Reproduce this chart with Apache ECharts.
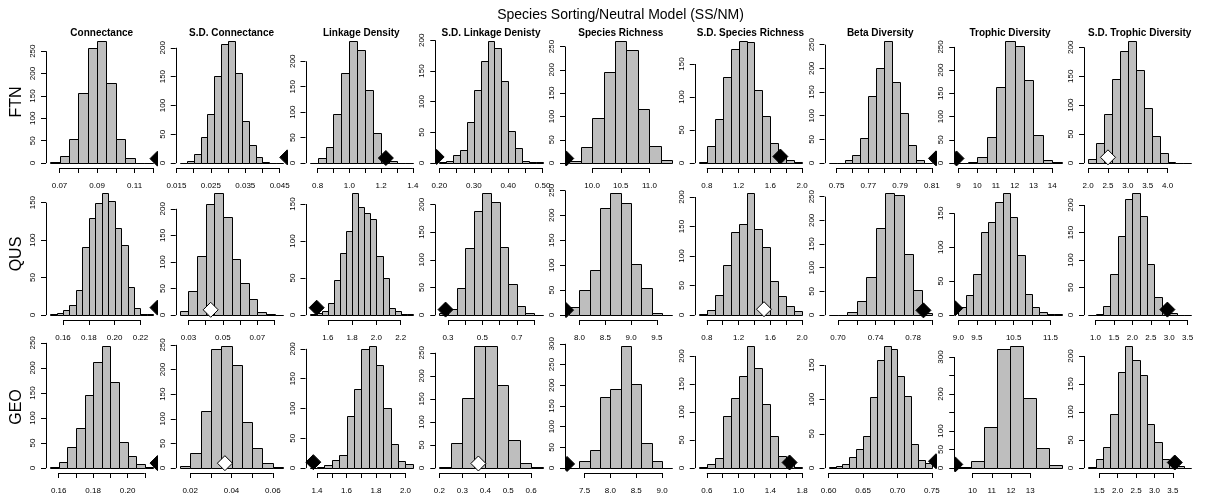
<!DOCTYPE html>
<html>
<head>
<meta charset="utf-8">
<script src="https://cdn.jsdelivr.net/npm/echarts@6/dist/echarts.min.js"></script>
<style>
  html, body { margin: 0; padding: 0; background: #fff; }
  #chart { width: 1206px; height: 502px; }
</style>
</head>
<body>
<div id="chart"></div>
<script>
// histogram panels: one row per region, one column per metric
var metrics = ['Connectance', 'S.D. Connectance', 'Linkage Density', 'S.D. Linkage Denisty',
  'Species Richness', 'S.D. Species Richness', 'Beta Diversity', 'Trophic Diversity', 'S.D. Trophic Diversity'];
var regions = ['FTN', 'QUS', 'GEO'];

// FTN
var ftnStart = [0.065, 0.016, 0.75, 0.20, 9.6, 0.7, 0.745, 9.0, 2.0];
var ftnWidth = [0.005, 0.002, 0.05, 0.02, 0.2, 0.1, 0.005, 0.5, 0.2];
var ftnCounts = [
  [3, 15, 54, 157, 256, 273, 178, 54, 12, 1, 1],
  [1, 3, 16, 46, 86, 151, 207, 212, 156, 73, 31, 10, 2, 1, 1],
  [1, 11, 31, 97, 177, 240, 222, 143, 59, 15, 4, 1, 1],
  [1, 3, 13, 21, 67, 119, 167, 199, 188, 134, 53, 25, 4, 2, 1],
  [5, 35, 97, 195, 262, 242, 117, 36, 6],
  [2, 26, 67, 130, 172, 185, 183, 110, 72, 30, 10, 4, 1],
  [1, 1, 7, 17, 54, 141, 200, 258, 172, 105, 39, 7, 1],
  [1, 2, 14, 57, 163, 263, 253, 178, 60, 7, 2],
  [7, 35, 84, 145, 193, 211, 160, 96, 46, 17, 2, 1, 1]
];
var ftnTicks = [
  [0.07, 0.08, 0.09, 0.10, 0.11, 0.12],
  [0.015, 0.020, 0.025, 0.030, 0.035, 0.040, 0.045],
  [0.8, 0.9, 1.0, 1.1, 1.2, 1.3, 1.4],
  [0.20, 0.25, 0.30, 0.35, 0.40, 0.45, 0.50],
  [10.0, 10.5, 11.0],
  [0.8, 1.0, 1.2, 1.4, 1.6, 1.8, 2.0],
  [0.75, 0.76, 0.77, 0.78, 0.79, 0.80, 0.81],
  [9, 10, 11, 12, 13, 14],
  [2.0, 2.5, 3.0, 3.5, 4.0]
];
var ftnLabels = [
  [0.07, 0.09, 0.11],
  [0.015, 0.025, 0.035, 0.045],
  [0.8, 1.0, 1.2, 1.4],
  [0.20, 0.30, 0.40, 0.50],
  [10.0, 10.5, 11.0],
  [0.8, 1.2, 1.6, 2.0],
  [0.75, 0.77, 0.79, 0.81],
  [9, 10, 11, 12, 13, 14],
  [2.0, 2.5, 3.0, 3.5, 4.0]
];
var ftnDigits = [2, 3, 1, 2, 1, 1, 2, 0, 1];
var ftnYTop = [250, 200, 200, 200, 250, 150, 250, 250, 200];
var ftnObs = [0.1222, 0.0472, 1.23, 0.192, 9.55, 1.726, 0.8126, 8.9, 2.5];
var ftnFill = ['#000', '#000', '#000', '#000', '#000', '#000', '#000', '#000', '#fff'];

// QUS
var qusStart = [0.15, 0.025, 1.45, 0.25, 7.8, 0.7, 0.69, 9.0, 0.8];
var qusWidth = [0.005, 0.005, 0.05, 0.05, 0.2, 0.1, 0.01, 0.2, 0.2];
var qusCounts = [
  [1, 3, 7, 13, 34, 91, 130, 150, 163, 152, 116, 93, 38, 9, 2, 1],
  [7, 46, 111, 209, 230, 184, 106, 61, 31, 6, 2, 1],
  [1, 3, 5, 16, 48, 84, 114, 165, 146, 138, 130, 80, 50, 9, 5, 2, 1],
  [3, 11, 49, 121, 189, 221, 204, 124, 57, 17, 4, 1],
  [16, 50, 90, 215, 245, 224, 103, 54, 4, 1],
  [2, 9, 34, 85, 140, 155, 207, 145, 116, 57, 32, 15, 7],
  [1, 1, 7, 30, 81, 183, 258, 253, 128, 53, 5],
  [12, 29, 61, 123, 137, 166, 180, 144, 89, 31, 12, 4, 1, 1],
  [1, 2, 17, 74, 143, 211, 222, 180, 92, 32, 17, 4, 1, 1]
];
var qusTicks = [
  [0.16, 0.18, 0.20, 0.22],
  [0.03, 0.04, 0.05, 0.06, 0.07, 0.08],
  [1.6, 1.8, 2.0, 2.2],
  [0.3, 0.4, 0.5, 0.6, 0.7, 0.8],
  [8.0, 8.5, 9.0, 9.5],
  [0.8, 1.0, 1.2, 1.4, 1.6, 1.8, 2.0],
  [0.70, 0.72, 0.74, 0.76, 0.78, 0.80],
  [9.0, 9.5, 10.0, 10.5, 11.0, 11.5],
  [1.0, 1.5, 2.0, 2.5, 3.0, 3.5]
];
var qusLabels = [
  [0.16, 0.18, 0.20, 0.22],
  [0.03, 0.05, 0.07],
  [1.6, 1.8, 2.0, 2.2],
  [0.3, 0.5, 0.7],
  [8.0, 8.5, 9.0, 9.5],
  [0.8, 1.2, 1.6, 2.0],
  [0.70, 0.74, 0.78],
  [9.0, 9.5, 10.5, 11.5],
  [1.0, 1.5, 2.0, 2.5, 3.0, 3.5]
];
var qusDigits = [2, 2, 1, 1, 1, 1, 2, 1, 1];
var qusYTop = [150, 200, 150, 200, 250, 200, 250, 150, 200];
var qusObs = [0.2332, 0.0429, 1.508, 0.286, 7.74, 1.52, 0.791, 8.915, 2.95];
var qusFill = ['#000', '#fff', '#000', '#000', '#000', '#fff', '#000', '#000', '#000'];

// GEO
var geoStart = [0.155, 0.015, 1.35, 0.20, 7.2, 0.5, 0.60, 9.262, 1.2];
var geoWidth = [0.005, 0.005, 0.05, 0.05, 0.2, 0.1, 0.01, 0.672, 0.2];
var geoCounts = [
  [3, 13, 43, 80, 146, 211, 244, 172, 52, 24, 9, 2],
  [4, 31, 115, 242, 248, 210, 94, 40, 11, 3],
  [1, 2, 6, 14, 22, 88, 132, 200, 205, 173, 100, 41, 12, 7],
  [3, 54, 153, 265, 265, 180, 62, 12, 3],
  [1, 18, 44, 172, 190, 295, 204, 60, 17, 1],
  [2, 7, 18, 93, 125, 164, 218, 179, 114, 57, 21, 12, 2],
  [2, 3, 6, 16, 28, 47, 103, 158, 178, 173, 134, 105, 35, 12, 7],
  [3, 20, 110, 322, 330, 190, 55, 8],
  [2, 17, 38, 97, 171, 218, 193, 166, 78, 47, 17, 5, 4, 1]
];
var geoTicks = [
  [0.16, 0.17, 0.18, 0.19, 0.20, 0.21],
  [0.02, 0.03, 0.04, 0.05, 0.06],
  [1.4, 1.5, 1.6, 1.7, 1.8, 1.9, 2.0],
  [0.2, 0.3, 0.4, 0.5, 0.6],
  [7.5, 8.0, 8.5, 9.0],
  [0.6, 0.8, 1.0, 1.2, 1.4, 1.6, 1.8],
  [0.60, 0.65, 0.70, 0.75],
  [10, 11, 12, 13],
  [1.5, 2.0, 2.5, 3.0, 3.5]
];
var geoLabels = [
  [0.16, 0.18, 0.20],
  [0.02, 0.04, 0.06],
  [1.4, 1.6, 1.8, 2.0],
  [0.2, 0.3, 0.4, 0.5, 0.6],
  [7.5, 8.0, 8.5, 9.0],
  [0.6, 1.0, 1.4, 1.8],
  [0.60, 0.65, 0.70, 0.75],
  [10, 11, 12, 13],
  [1.5, 2.0, 2.5, 3.0, 3.5]
];
var geoDigits = [2, 2, 1, 1, 1, 1, 2, 0, 1];
var geoYTop = [250, 250, 200, 250, 300, 200, 150, 300, 200];
var geoObs = [0.2174, 0.0368, 1.375, 0.37, 7.16, 1.642, 0.756, 9.1, 3.55];
var geoFill = ['#000', '#fff', '#000', '#fff', '#000', '#000', '#000', '#000', '#000'];
// y labels R left out because they would overlap
var geoYSkip = [[], [], [], [], [], [], [], [150, 250], []];

var obsY = 10;

var rows = [
  { start: ftnStart, width: ftnWidth, counts: ftnCounts, ticks: ftnTicks, labels: ftnLabels,
    digits: ftnDigits, yTop: ftnYTop, obs: ftnObs, fill: ftnFill, ySkip: null },
  { start: qusStart, width: qusWidth, counts: qusCounts, ticks: qusTicks, labels: qusLabels,
    digits: qusDigits, yTop: qusYTop, obs: qusObs, fill: qusFill, ySkip: null },
  { start: geoStart, width: geoWidth, counts: geoCounts, ticks: geoTicks, labels: geoLabels,
    digits: geoDigits, yTop: geoYTop, obs: geoObs, fill: geoFill, ySkip: geoYSkip }
];

var FONT = 'Liberation Sans, Arial, Helvetica, sans-serif';
var colLeft = 46, colStep = 129.75, plotW = 111.5;
var rowTops = [36, 188, 341], plotH = 132;

var grids = [], xAxes = [], yAxes = [], series = [], graphics = [];

// snap to the pixel grid so 1px outlines stay crisp
function px(v) { return Math.round(v) + 0.5; }

function barItem(params, api) {
  var p0 = api.coord([api.value(0), api.value(2)]);
  var p1 = api.coord([api.value(1), 0]);
  var x0 = px(p0[0]), x1 = px(p1[0]), y0 = px(p0[1]), y1 = px(p1[1]);
  return {
    type: 'rect',
    shape: { x: x0, y: y0, width: x1 - x0, height: y1 - y0 },
    style: { fill: '#bebebe', stroke: '#000', lineWidth: 1 }
  };
}

// R draws its axis lines only between the first and last tick
function axisItem(params, api) {
  var cs = params.coordSys;
  var xa = api.coord([api.value(0), 0])[0];
  var xb = api.coord([api.value(1), 0])[0];
  var yb = px(cs.y + cs.height);
  var y0 = api.coord([api.value(0), 0])[1];
  var yt = api.coord([api.value(0), api.value(2)])[1];
  var xl = px(cs.x);
  return {
    type: 'group',
    children: [
      { type: 'line', shape: { x1: xa, y1: yb, x2: xb, y2: yb }, style: { stroke: '#000', lineWidth: 1 } },
      { type: 'line', shape: { x1: xl, y1: y0, x2: xl, y2: yt }, style: { stroke: '#000', lineWidth: 1 } }
    ]
  };
}

function diamondItem(params, api) {
  var c = api.coord([api.value(0), api.value(1)]);
  var r = 7.5;
  return {
    type: 'polygon',
    shape: { points: [[c[0], c[1] - r], [c[0] + r, c[1]], [c[0], c[1] + r], [c[0] - r, c[1]]] },
    style: { fill: api.value(2) ? '#fff' : '#000', stroke: '#000', lineWidth: 1 }
  };
}

rows.forEach(function(row, r) {
  for (var c = 0; c < 9; c++) {
    var idx = r * 9 + c;
    var x0 = row.start[c], w = row.width[c], counts = row.counts[c];
    var range = counts.length * w;
    var maxC = Math.max.apply(null, counts);
    var digits = row.digits[c];

    grids.push({
      left: colLeft + colStep * c, top: rowTops[r], width: plotW, height: plotH,
      containLabel: false, outerBoundsMode: 'none'
    });

    xAxes.push({
      gridIndex: idx, type: 'value',
      min: x0 - 0.04 * range, max: x0 + 1.04 * range,
      axisLine: { show: false, onZero: false },
      axisTick: { show: true, length: 5, customValues: row.ticks[c], lineStyle: { color: '#000', width: 1 } },
      axisLabel: {
        customValues: row.labels[c], fontSize: 8, color: '#000', fontFamily: FONT, margin: 14,
        formatter: (function(d) { return function(v) { return (+v).toFixed(d); }; })(digits)
      },
      splitLine: { show: false }
    });

    var yTicks = [];
    for (var v = 0; v <= row.yTop[c]; v += 50) yTicks.push(v);
    var skip = row.ySkip ? row.ySkip[c] : [];
    var yLabels = yTicks.filter(function(t) { return skip.indexOf(t) < 0; });

    yAxes.push({
      gridIndex: idx, type: 'value',
      min: -0.04 * maxC, max: 1.04 * maxC,
      axisLine: { show: false, onZero: false },
      axisTick: { show: true, length: 5, customValues: yTicks, lineStyle: { color: '#000', width: 1 } },
      axisLabel: { customValues: yLabels, rotate: 90, fontSize: 8, color: '#000', fontFamily: FONT, margin: 9 },
      splitLine: { show: false }
    });

    series.push({
      type: 'custom', xAxisIndex: idx, yAxisIndex: idx, clip: false, silent: true,
      data: counts.map(function(n, k) { return [x0 + k * w, x0 + (k + 1) * w, n]; }),
      renderItem: barItem
    });

    var tk = row.ticks[c];
    series.push({
      type: 'custom', xAxisIndex: idx, yAxisIndex: idx, clip: false, silent: true,
      data: [[tk[0], tk[tk.length - 1], row.yTop[c]]],
      renderItem: axisItem
    });

    series.push({
      type: 'custom', xAxisIndex: idx, yAxisIndex: idx, clip: true, silent: true,
      data: [[row.obs[c], obsY, row.fill[c] === '#fff' ? 1 : 0]],
      renderItem: diamondItem
    });
  }
});

// column titles over the first row
metrics.forEach(function(m, c) {
  graphics.push({
    type: 'text', x: colLeft + colStep * c + plotW / 2, y: 33,
    style: { text: m, font: 'bold 10px ' + FONT, fill: '#000', textAlign: 'center', textVerticalAlign: 'middle' }
  });
});

regions.forEach(function(name, r) {
  graphics.push({
    type: 'text', x: 17, y: rowTops[r] + plotH / 2, rotation: Math.PI / 2,
    style: { text: name, font: '16px ' + FONT, fill: '#000', textAlign: 'center', textVerticalAlign: 'middle' }
  });
});

graphics.push({
  type: 'text', x: 620.5, y: 15,
  style: { text: 'Species Sorting/Neutral Model (SS/NM)', font: '14px ' + FONT, fill: '#000',
    textAlign: 'center', textVerticalAlign: 'middle' }
});

var chart = echarts.init(document.getElementById('chart'), null, { renderer: 'canvas' });
chart.setOption({
  animation: false,
  backgroundColor: '#fff',
  grid: grids,
  xAxis: xAxes,
  yAxis: yAxes,
  series: series,
  graphic: graphics
});
</script>
</body>
</html>
